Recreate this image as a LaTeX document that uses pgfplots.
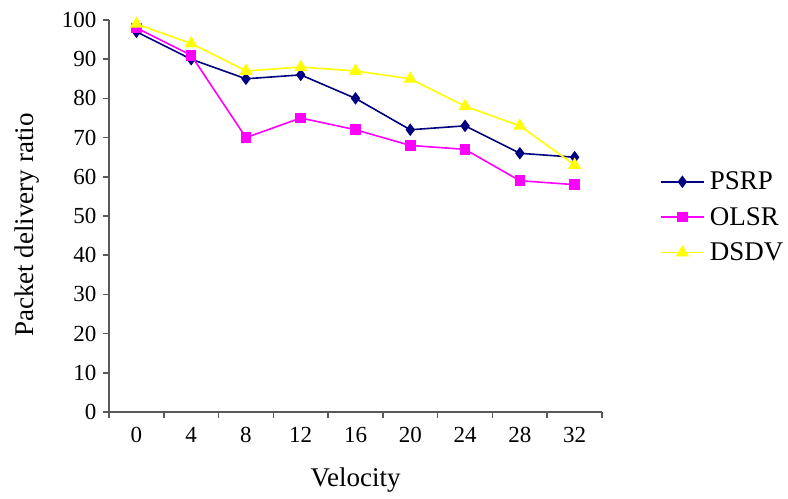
\documentclass[border=0pt]{standalone}
\usepackage{pgfplots}
\pgfplotsset{compat=1.18}
\usepackage{fontspec}
\setmainfont{Liberation Serif}
\definecolor{psrp}{RGB}{0,0,128}
\definecolor{olsr}{RGB}{255,0,255}
\definecolor{dsdv}{RGB}{255,255,0}
\begin{document}
\begin{tikzpicture}
\begin{axis}[
  name=ax,
  scale only axis, width=493pt, height=392pt,
  font=\fontsize{23}{28}\selectfont,
  /pgf/number format/assume math mode=true,
  xmin=-0.5, xmax=8.5, ymin=0, ymax=100,
  axis x line=bottom, axis y line=left,
  axis line style={-, draw=black!65, line width=1.5pt},
  xtick={0,...,8}, xticklabels={0,4,8,12,16,20,24,28,32},
  minor xtick={-0.5,0.5,1.5,2.5,3.5,4.5,5.5,6.5,7.5,8.5},
  major x tick style={draw=none},
  minor x tick style={draw=black!65, line width=1.5pt},
  y tick style={draw=black!65, line width=1.5pt},
  tick align=outside,
  major tick length=6pt, minor tick length=6pt,
  ytick={0,10,...,100},
  xticklabel style={yshift=-6pt},
  yticklabel style={xshift=-3pt},
  xlabel={Velocity}, ylabel={Packet delivery ratio},
  label style={font=\fontsize{27}{32}\selectfont},
  xlabel style={at={(axis description cs:0.5,-0.173)}, anchor=center},
  ylabel style={at={(axis description cs:-0.166,0.477)}, anchor=center},
  legend style={draw=none, fill=none, at={(1.111,0.497)}, anchor=west,
    row sep=12pt, font=\fontsize{27}{32}\selectfont,
    /tikz/every odd column/.append style={column sep=3pt}},
  legend cell align=left,
  legend image code/.code={\draw[mark repeat=2,mark phase=2] plot coordinates {(0cm,0cm) (0.76cm,0cm) (1.52cm,0cm)};},
  clip=false,
]
\addplot[color=psrp, line width=1.6pt, mark=diamond*, mark size=5pt, mark options={fill=psrp}]
  coordinates {(0,97) (1,90) (2,85) (3,86) (4,80) (5,72) (6,73) (7,66) (8,65)};
\addlegendentry{PSRP}
\addplot[color=olsr, line width=1.6pt, mark=square*, mark size=4.5pt, mark options={fill=olsr}]
  coordinates {(0,98) (1,91) (2,70) (3,75) (4,72) (5,68) (6,67) (7,59) (8,58)};
\addlegendentry{OLSR}
\addplot[color=dsdv, line width=1.6pt, mark=triangle*, mark size=6pt, mark options={fill=dsdv}]
  coordinates {(0,99) (1,94) (2,87) (3,88) (4,87) (5,85) (6,78) (7,73) (8,63)};
\addlegendentry{DSDV}
\end{axis}
\pgfresetboundingbox
\path ([shift={(-109pt,-86pt)}]ax.south west) rectangle ([shift={(186pt,20pt)}]ax.north east);
\end{tikzpicture}
\end{document}
